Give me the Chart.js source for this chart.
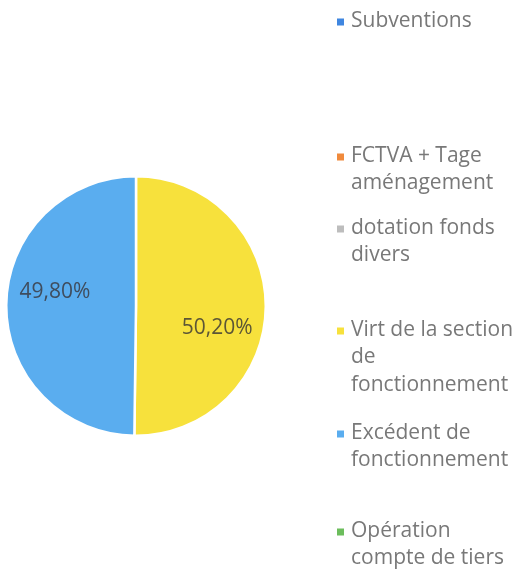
<!DOCTYPE html>
<html>
<head>
<meta charset="utf-8">
<script src="https://cdn.jsdelivr.net/npm/chart.js@4.4.1/dist/chart.umd.min.js"></script>
<style>
  html, body { margin: 0; padding: 0; background: #ffffff; }
  #wrap { position: relative; width: 519px; height: 572px; }
</style>
</head>
<body>
<div id="wrap"><canvas id="c" width="519" height="572"></canvas></div>
<script>
// ---- data ----
const categories = [
  ["Subventions"],
  ["FCTVA + Tage", "aménagement"],
  ["dotation fonds", "divers"],
  ["Virt de la section", "de", "fonctionnement"],
  ["Excédent de", "fonctionnement"],
  ["Opération", "compte de tiers"]
];
const shares = [0, 0, 0, 50.20, 49.80, 0];
const valueLabels = ["", "", "", "50,20%", "49,80%", ""];

// ---- styles ----
const sliceColors = ["#3f86e0", "#f08a3c", "#bdbdbd", "#f7e13c", "#5aadef", "#6cbd5c"];
const labelColors = ["#444", "#444", "#444", "#5c5636", "#3f4d5e", "#444"];
const legendFirstLineY = [21, 156, 228, 330, 433, 531];

const customLegend = {
  id: 'customLegend',
  afterDraw(chart, args, opts) {
    const ctx = chart.ctx;
    const labels = chart.data.labels;
    const colors = chart.data.datasets[0].backgroundColor;
    ctx.save();
    ctx.font = opts.font;
    ctx.textBaseline = 'middle';
    ctx.textAlign = 'left';
    labels.forEach((lines, i) => {
      const y0 = opts.y[i];
      ctx.fillStyle = colors[i];
      ctx.fillRect(opts.boxX, y0 - opts.box / 2 + 1, opts.box, opts.box);
      ctx.fillStyle = opts.color;
      lines.forEach((ln, j) => {
        ctx.fillText(ln, opts.textX, y0 + j * opts.lineHeight);
      });
    });
    ctx.restore();
  }
};

const sliceLabels = {
  id: 'sliceLabels',
  afterDatasetsDraw(chart, args, opts) {
    const ctx = chart.ctx;
    const meta = chart.getDatasetMeta(0);
    ctx.save();
    ctx.font = opts.font;
    ctx.textAlign = 'center';
    ctx.textBaseline = 'middle';
    meta.data.forEach((arc, i) => {
      if (!shares[i]) return;
      const p = arc.getProps(['x', 'y', 'startAngle', 'endAngle', 'outerRadius']);
      const a = (p.startAngle + p.endAngle) / 2 + opts.angleShift;
      const r = p.outerRadius * opts.radial;
      ctx.fillStyle = labelColors[i];
      ctx.fillText(valueLabels[i], p.x + Math.cos(a) * r, p.y + Math.sin(a) * r + opts.dy);
    });
    ctx.restore();
  }
};

new Chart(document.getElementById('c'), {
  type: 'pie',
  data: {
    labels: categories,
    datasets: [{
      data: shares,
      backgroundColor: sliceColors,
      borderColor: '#ffffff',
      borderWidth: 2.5
    }]
  },
  options: {
    responsive: false,
    animation: false,
    layout: { padding: { left: 5, right: 252, top: 175, bottom: 135 } },
    plugins: {
      legend: { display: false },
      tooltip: { enabled: false },
      customLegend: {
        font: '21px "Open Sans"',
        color: '#787878',
        boxX: 337, box: 7, textX: 351, lineHeight: 27.5,
        y: legendFirstLineY
      },
      sliceLabels: {
        font: '21px "Open Sans"',
        radial: 0.64,
        angleShift: 12 * Math.PI / 180,
        dy: 4
      }
    }
  },
  plugins: [customLegend, sliceLabels]
});
</script>
</body>
</html>
